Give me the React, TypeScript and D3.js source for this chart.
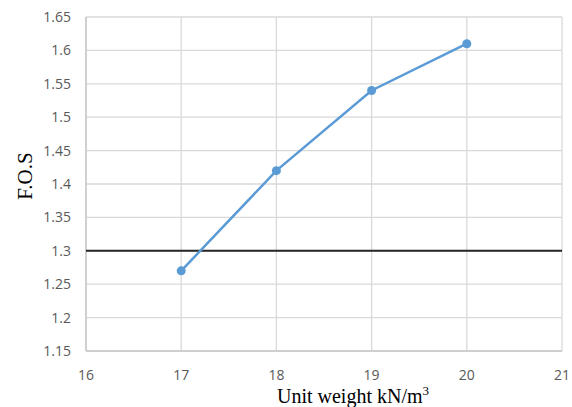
import { useEffect, useRef } from 'react';
import * as d3 from 'd3';

const unitWeights = [17, 18, 19, 20];
const fosValues = [1.27, 1.42, 1.54, 1.61];
const xTicks = [16, 17, 18, 19, 20, 21];
const yTicks = [1.15, 1.2, 1.25, 1.3, 1.35, 1.4, 1.45, 1.5, 1.55, 1.6, 1.65];
const limitFos = 1.3;

export default function App() {
  const svgRef = useRef<SVGSVGElement>(null);
  const width = 572;
  const height = 407;

  useEffect(() => {
    if (!svgRef.current) return;
    const svg = d3.select(svgRef.current);
    svg.selectAll('*').remove();

    const margin = { top: 17, right: 10, bottom: 56, left: 86 };
    const x = d3.scaleLinear().domain([16, 21]).range([margin.left, width - margin.right]);
    const y = d3.scaleLinear().domain([1.15, 1.65]).range([height - margin.bottom, margin.top]);

    const tickFont = '"Liberation Sans Narrow", "Open Sans", Arial, sans-serif';
    const titleFont = '"Liberation Serif", "Times New Roman", serif';

    // сетка
    svg.append('g')
      .selectAll('line')
      .data(yTicks)
      .join('line')
      .attr('x1', x(16)).attr('x2', x(21))
      .attr('y1', d => y(d)).attr('y2', d => y(d))
      .attr('stroke', '#d9d9d9').attr('stroke-width', 1.3);

    svg.append('g')
      .selectAll('line')
      .data(xTicks)
      .join('line')
      .attr('x1', d => x(d)).attr('x2', d => x(d))
      .attr('y1', y(1.15)).attr('y2', y(1.65))
      .attr('stroke', '#d9d9d9').attr('stroke-width', 1.3);

    // оси
    svg.append('line')
      .attr('x1', x(16)).attr('x2', x(16))
      .attr('y1', y(1.15)).attr('y2', y(1.65))
      .attr('stroke', '#c8c8c8').attr('stroke-width', 1.5);
    svg.append('line')
      .attr('x1', x(16)).attr('x2', x(21))
      .attr('y1', y(1.15)).attr('y2', y(1.15))
      .attr('stroke', '#c8c8c8').attr('stroke-width', 1.5);

    // подписи делений
    svg.append('g')
      .selectAll('text')
      .data(yTicks)
      .join('text')
      .attr('x', x(16) - 15)
      .attr('y', d => y(d) + 5)
      .attr('text-anchor', 'end')
      .attr('font-family', tickFont)
      .attr('font-size', 14)
      .attr('fill', '#595959')
      .text(d => String(d));

    svg.append('g')
      .selectAll('text')
      .data(xTicks)
      .join('text')
      .attr('x', d => x(d))
      .attr('y', y(1.15) + 29)
      .attr('text-anchor', 'middle')
      .attr('font-family', tickFont)
      .attr('font-size', 14)
      .attr('fill', '#595959')
      .text(d => String(d));

    // линия F.O.S = 1.3
    svg.append('line')
      .attr('x1', x(16)).attr('x2', x(21))
      .attr('y1', y(limitFos)).attr('y2', y(limitFos))
      .attr('stroke', '#262626').attr('stroke-width', 2);

    const data = unitWeights.map((w, i) => ({ w, f: fosValues[i] }));
    const line = d3.line<{ w: number; f: number }>()
      .x(d => x(d.w))
      .y(d => y(d.f));

    svg.append('path')
      .datum(data)
      .attr('fill', 'none')
      .attr('stroke', '#5b9bd5')
      .attr('stroke-width', 2.5)
      .attr('d', line);

    svg.append('g')
      .selectAll('circle')
      .data(data)
      .join('circle')
      .attr('cx', d => x(d.w))
      .attr('cy', d => y(d.f))
      .attr('r', 4.5)
      .attr('fill', '#5b9bd5');

    // заголовки осей
    svg.append('text')
      .attr('transform', `translate(32, 176) rotate(-90)`)
      .attr('text-anchor', 'middle')
      .attr('font-family', titleFont)
      .attr('font-size', 21)
      .attr('fill', '#000')
      .text('F.O.S');

    const xt = svg.append('text')
      .attr('x', 353)
      .attr('y', 403)
      .attr('text-anchor', 'middle')
      .attr('font-family', titleFont)
      .attr('font-size', 20)
      .attr('fill', '#000');
    xt.append('tspan').text('Unit weight kN/m');
    xt.append('tspan').attr('font-size', 13).attr('dy', -8).text('3');
  }, []);

  return (
    <svg
      ref={svgRef}
      width={width}
      height={height}
      style={{ position: 'absolute', left: 0, top: 0, background: '#fff' }}
    />
  );
}
